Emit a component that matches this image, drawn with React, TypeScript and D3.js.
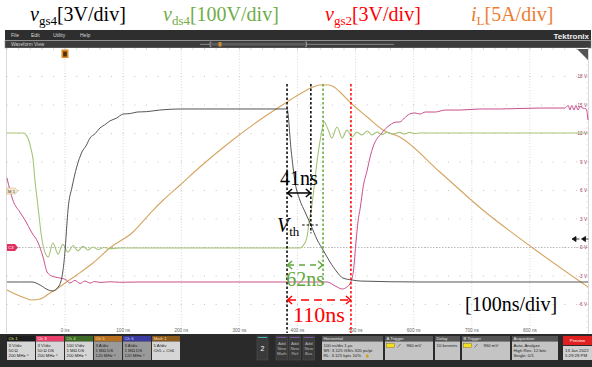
import React from 'react';
import * as d3 from 'd3';

// ---------- data (time in ns, values in channel units) ----------
const timeTicks = [0, 100, 200, 300, 400, 500, 600, 700, 800];
const voltTicks = [18, 15, 12, 9, 6, 3, 0, -3, -6];

// v_gs4 [V]
const vgs4: [number, number][] = [
  [-100, -3.63], [-78, -3.63], [-57, -3.63], [-43, -3.95], [-29, -4.47], [-21, -4.58], [-12, -4.16],
  [-7, -3.53], [-4, -2.58], [0, -0.26], [3, 2.37], [5, 3.95], [12, 6.37], [20, 8.47], [29, 10.05],
  [36, 10.7], [43, 11.53], [52, 12.0], [60, 12.58], [68, 12.9], [77, 13.32], [88, 13.6], [100, 14.05],
  [112, 14.1], [124, 14.26], [140, 14.3], [163, 14.47], [198, 14.58], [284, 14.58], [382, 14.58],
  [389, 10.26], [396, 6.79], [404, 5.0], [413, 3.74], [423, 2.37], [434, 0.79], [444, -0.26],
  [456, -1.53], [468, -2.58], [478, -3.21], [494, -3.42], [508, -3.53], [611, -3.63], [900, -3.63],
];

// v_ds4 [V]
const vds4: [number, number][] = [
  [-100, 402], [-72, 402], [-64, 384], [-59, 349], [-55, 307], [-52, 237], [-48, 167], [-45, 114],
  [-41, 44], [-36, -9], [-29, -33], [-21, 16], [-12, -23], [-4, 11], [5, -16], [14, 7], [22, -12],
  [31, 4], [39, -9], [48, 2], [57, -7], [67, 0], [77, -4], [94, -2], [232, -2], [404, -2],
  [409, 5], [416, 33], [420, 89], [425, 149], [428, 202], [434, 307], [440, 388], [446, 440],
  [453, 412], [459, 384], [468, 423], [477, 384], [485, 412], [494, 388], [502, 405], [511, 395],
  [520, 409], [528, 395], [537, 405], [545, 396], [554, 404], [564, 398], [576, 404], [584, 398],
  [593, 404], [602, 400], [611, 402], [900, 402],
];

// v_gs2 [V]
const vgs2: [number, number][] = [
  [-100, 7.32], [-95, 6.05], [-90, 5.0], [-78, 3.74], [-69, 2.89], [-57, 1.53], [-47, 0.58],
  [-38, -1.0], [-31, -2.58], [-23, -3.0], [-9, -3.21], [2, -3.42], [8, -3.74], [17, -3.47],
  [26, -3.79], [34, -3.53], [43, -3.74], [51, -3.58], [60, -3.68], [77, -3.61], [94, -3.66],
  [129, -3.63], [451, -3.63], [465, -4.05], [477, -4.37], [485, -4.16], [490, -3.84], [496, -2.58],
  [501, 0.79], [504, 2.68], [508, 4.16], [513, 6.37], [520, 8.16], [525, 9.53], [530, 10.58],
  [545, 12.05], [559, 12.89], [571, 13.21], [576, 13.21], [584, 13.63], [593, 14.05], [602, 14.16],
  [611, 14.05], [620, 14.26], [637, 14.26], [654, 14.47], [680, 14.47], [714, 14.58], [749, 14.58],
  [817, 14.68], [860, 14.68], [866, 14.95], [869, 14.47], [872, 14.95], [876, 14.47], [879, 14.95],
  [883, 14.47], [886, 14.84], [891, 14.68], [897, 14.58], [900, 13.42],
];

// i_L [A]
const iL: [number, number][] = [
  [-100, -7.46], [-86, -8.16], [-69, -8.86], [-57, -9.21], [-43, -9.04], [-26, -7.98], [-12, -7.11],
  [0, -6.23], [20, -4.82], [48, -2.72], [77, -0.09], [117, 2.72], [150, 6.4], [169, 8.33],
  [198, 10.96], [232, 14.12], [284, 18.51], [335, 22.37], [382, 25.53], [404, 26.93], [427, 28.16],
  [439, 28.51], [453, 28.51], [463, 28.16], [473, 27.28], [490, 25.53], [520, 22.89], [547, 20.61],
  [576, 19.39], [645, 13.25], [719, 6.58], [805, -0.09], [900, -6.93],
];

// annotation: switching instants
const tOff = 382;
const delay41 = 41;
const delay62 = 62;
const delay110 = 110;

const channelBoxes = [
  { name: 'Ch 1', lines: ['3 V/div', '50 Ω', '200 MHz ⁿ'] },
  { name: 'Ch 3', lines: ['3 V/div', '50 Ω    DS', '200 MHz ⁿ'] },
  { name: 'Ch 4', lines: ['100 V/div', '1 MΩ   DS', '200 MHz ⁿ'] },
  { name: 'Ch 5', lines: ['3 A/div', '1 MΩ   DS', '120 MHz ⁿ'] },
  { name: 'Ch 6', lines: ['3 A/div', '1 MΩ   DS', '120 MHz ⁿ'] },
  { name: 'Math 1', lines: ['5 A/div', 'Ch5 + Ch6'] },
];

// ---------- layout ----------
const W = 592, H = 367;
const X0 = 7, X1 = 588, Y0 = 48, Y1 = 333;

const x = d3.scaleLinear().domain([-100, 900]).range([X0, X1]);
const yV = d3.scaleLinear().domain([-9, 21]).range([Y1, Y0]);
const yVds = d3.scaleLinear().domain([-300, 700]).range([Y1, Y0]);
const yI = d3.scaleLinear().domain([-15, 35]).range([Y1, Y0]);

const mk = (ys: d3.ScaleLinear<number, number>) =>
  d3.line<[number, number]>().x(d => x(d[0])).y(d => ys(d[1])).curve(d3.curveMonotoneX);

const serif = '"Liberation Serif", "Times New Roman", serif';
const sans = '"Liberation Sans", Arial, sans-serif';

const GREEN = '#5fa83a';
const RED = '#ff0000';

function Arrow({ xa, xb, y, color, dash }: { xa: number; xb: number; y: number; color: string; dash?: string }) {
  return (
    <g stroke={color} strokeWidth={1.5} fill="none">
      <line x1={xa + 1} x2={xb - 1} y1={y} y2={y} strokeDasharray={dash} />
      <path d={`M${xa + 5},${y - 4} L${xa + 0.5},${y} L${xa + 5},${y + 4}`} />
      <path d={`M${xb - 5},${y - 4} L${xb - 0.5},${y} L${xb - 5},${y + 4}`} />
    </g>
  );
}

export default function App() {
  const majorX = d3.range(-100, 901, 100);
  const minorX = d3.range(-100, 901, 20);
  const majorY = d3.range(-9, 22, 3);
  const minorY = d3.range(-9, 21.01, 0.6);

  const xa = x(tOff);
  const x41 = x(tOff + delay41);
  const x62 = x(tOff + delay62);
  const x110 = x(tOff + delay110);
  const yTop = yV(17.2);

  const panelBoxX = [7, 36, 65, 94, 123, 152];
  const panelHead = ['#1c1c1c', '#e8406a', '#3d6b25', '#b8701e', '#3a3aa0', '#8c5a1c'];
  const panelHeadText = ['#e8e070', '#ffffff', '#c8e8a0', '#ffe0b0', '#d0d0ff', '#ffe0b0'];
  const panelBody = ['#d6d6d6', '#d6d6d6', '#d6d6d6', '#9a9a9a', '#9a9a9a', '#d6d6d6'];

  return (
    <svg width={W} height={H} style={{ position: 'absolute', left: 0, top: 0, background: '#fff' }}>
      <rect x={0} y={0} width={W} height={H} fill="#fff" />
      {/* titles */}
      <g fontFamily={serif} fontSize={20}>
        <text x={30} y={21} fill="#000">
          <tspan fontStyle="italic">v</tspan>
          <tspan fontSize={13} dy={4}>gs4</tspan>
          <tspan dy={-4}>[3V/div]</tspan>
        </text>
        <text x={163} y={21} fill="#70ad47">
          <tspan fontStyle="italic">v</tspan>
          <tspan fontSize={13} dy={4}>ds4</tspan>
          <tspan dy={-4}>[100V/div]</tspan>
        </text>
        <text x={325} y={21} fill={RED}>
          <tspan fontStyle="italic">v</tspan>
          <tspan fontSize={13} dy={4}>gs2</tspan>
          <tspan dy={-4}>[3V/div]</tspan>
        </text>
        <text x={471} y={21} fill="#ed7d31">
          <tspan fontStyle="italic">i</tspan>
          <tspan fontSize={13} dy={4}>L</tspan>
          <tspan dy={-4}>[5A/div]</tspan>
        </text>
      </g>

      {/* menu bar */}
      <rect x={5} y={30} width={586} height={10} fill="#2e2e2e" />
      <g fontFamily={sans} fontSize={5} fill="#d8d8d8">
        <text x={11} y={37}>File</text>
        <text x={31} y={37}>Edit</text>
        <text x={53} y={37}>Utility</text>
        <text x={80} y={37}>Help</text>
      </g>
      <text x={589} y={38.5} textAnchor="end" fontFamily={sans} fontSize={8} fontWeight="bold" fill="#f0f0f0">Tektronix</text>
      <rect x={5} y={40.5} width={586} height={7.5} fill="#3c3c3c" stroke="#8a8a8a" strokeWidth={0.6} />
      <text x={11} y={46.3} fontFamily={sans} fontSize={4.8} fill="#cfcfcf">Waveform View</text>
      <line x1={200} x2={394} y1={44.3} y2={44.3} stroke="#7a7a7a" strokeWidth={1.2} />
      <rect x={210} y={42.8} width={96} height={3} fill="#5a5a5a" />
      <path d="M211.5,42 h-1.5 v4.6 h1.5 M305,42 h1.5 v4.6 h-1.5" stroke="#c0c0c0" strokeWidth={0.6} fill="none" />
      <rect x={218.5} y={42} width={3} height={4.6} fill="#d08a30" />

      {/* plot area */}
      <rect x={X0 - 1} y={Y0} width={X1 - X0 + 2} height={Y1 - Y0 + 2} fill="#fff" />
      <line x1={X0 - 0.5} x2={X0 - 0.5} y1={Y0} y2={Y1} stroke="#cfcfcf" strokeWidth={0.8} />
      <line x1={X1 + 0.5} x2={X1 + 0.5} y1={Y0} y2={Y1} stroke="#cfcfcf" strokeWidth={0.8} />

      {/* grid */}
      <g>
        {majorX.slice(1, -1).map(t => (
          <line key={'vx' + t} x1={x(t)} x2={x(t)} y1={Y0} y2={Y1} stroke="#bcbcbc" strokeWidth={0.7} strokeDasharray="0.8,2" />
        ))}
        {majorY.slice(1, -1).map(v =>
          minorX.map(t => (
            <rect key={'d' + v + '_' + t} x={x(t) - 0.5} y={yV(v) - 0.5} width={1} height={1} fill="#c4c4c4" />
          ))
        )}
        {minorX.map(t => (
          <line key={'tt' + t} x1={x(t)} x2={x(t)} y1={Y0} y2={Y0 + 2} stroke="#c8c8c8" strokeWidth={0.7} />
        ))}
        {minorY.map((v, i) => (
          <line key={'ty' + i} x1={X1 - 2} x2={X1} y1={yV(v)} y2={yV(v)} stroke="#d8d8d8" strokeWidth={0.5} />
        ))}
        <line x1={X0} x2={X1} y1={yV(0)} y2={yV(0)} stroke="#a0a0a0" strokeWidth={0.7} strokeDasharray="1.5,1.5" />
      </g>

      {/* right axis labels */}
      <g fontFamily={sans} fontSize={4.6} fill="#9b3060" textAnchor="end">
        {voltTicks.map(v => (
          <text key={'vl' + v} x={587} y={yV(v) + 1.6}>{`${v} V`}</text>
        ))}
      </g>

      {/* time labels */}
      <g fontFamily={sans} fontSize={4.6} fill="#666" textAnchor="middle">
        {timeTicks.map(t => (
          <text key={'tl' + t} x={x(t)} y={332}>{`${t} ns`}</text>
        ))}
      </g>

      {/* traces */}
      <g fill="none" strokeWidth={1} strokeLinejoin="round">
        <path d={mk(yI)(iL) || ''} stroke="#d6a460" strokeWidth={1.1} />
        <path d={mk(yVds)(vds4) || ''} stroke="#a7c47a" strokeWidth={1.1} />
        <path d={mk(yV)(vgs2) || ''} stroke="#c8508c" />
        <path d={mk(yV)(vgs4) || ''} stroke="#555555" />
      </g>

      {/* markers */}
      <g>
        <rect x={61.5} y={49.5} width={7} height={8.5} fill="#e08a2a" rx={0.5} />
        <rect x={63.2} y={51.5} width={3.6} height={5} fill="#4a3010" />
        <path d={`M577,49 L588,49 L588,60 Z`} fill="#555" />
        <path d={`M7,${yV(0) - 3.5} h8 l3,3.5 l-3,3.5 h-8 Z`} fill="#e03060" />
        <text x={11} y={yV(0) + 1.6} fontFamily={sans} fontSize={4.2} fill="#fff" textAnchor="middle">C3</text>
        <path d="M7,188 h8 l3,3 l-3,3 h-8 Z" fill="#f6ead2" stroke="#c8a870" strokeWidth={0.5} />
        <text x={11.5} y={192.6} fontFamily={sans} fontSize={4.2} fill="#333" textAnchor="middle">M 1</text>
        <path d="M572,239 l4,-2.5 v5 Z M576,239 h3.5 M581.5,239 l4,-2.5 v5 Z M585.5,239 h3" stroke="#111" strokeWidth={0.8} fill="#111" />
      </g>

      {/* annotations */}
      <g strokeWidth={1.5} strokeDasharray="2.5,2">
        <line x1={xa} x2={xa} y1={yTop} y2={Y1} stroke="#000" />
        <line x1={x41} x2={x41} y1={yTop} y2={yV(1.5)} stroke="#000" />
        <line x1={x62} x2={x62} y1={yTop} y2={yV(-3.95)} stroke={GREEN} />
        <line x1={x110} x2={x110} y1={yTop} y2={Y1} stroke={RED} />
        <line x1={x(408)} x2={x(435)} y1={yV(2.37)} y2={yV(2.37)} stroke="#000" strokeWidth={1.2} />
      </g>
      <Arrow xa={xa} xb={x41} y={yV(5.74)} color="#000" />
      <Arrow xa={xa} xb={x62} y={yV(-1.84)} color={GREEN} dash="6,5" />
      <Arrow xa={xa} xb={x110} y={yV(-5.53)} color={RED} dash="8,5" />
      <g fontFamily={serif} fontSize={20}>
        <text x={x(tOff + delay41 / 2)} y={185} textAnchor="middle" fill="#000">{`${delay41}ns`}</text>
        <text x={x(tOff + delay62 / 2)} y={286} textAnchor="middle" fill={GREEN}>{`${delay62}ns`}</text>
        <text x={x(tOff + delay110 / 2)} y={322} textAnchor="middle" fill={RED} fontSize={22}>{`${delay110}ns`}</text>
        <text x={277} y={232} fill="#000">
          <tspan fontStyle="italic">V</tspan>
          <tspan fontSize={13} dy={4}>th</tspan>
        </text>
        <text x={465} y={311} fill="#000">[100ns/div]</text>
      </g>

      {/* bottom panel */}
      <rect x={0} y={334} width={W} height={H - 334} fill="#2a2a2a" />
      <g fontFamily={sans} fontSize={4.3}>
        {channelBoxes.map((b, i) => (
          <g key={b.name}>
            <rect x={panelBoxX[i]} y={336} width={28} height={5.5} fill={panelHead[i]} />
            <rect x={panelBoxX[i]} y={341.5} width={28} height={18.5} fill={panelBody[i]} />
            <text x={panelBoxX[i] + 1.5} y={340.3} fill={panelHeadText[i]}>{b.name}</text>
            {b.lines.map((l, j) => (
              <text key={j} x={panelBoxX[i] + 1.5} y={346.5 + j * 5.2} fill="#222">{l}</text>
            ))}
          </g>
        ))}
        <rect x={257} y={336} width={11} height={24} fill="#3a3a3a" stroke="#555" strokeWidth={0.5} />
        <line x1={258} x2={267} y1={337.5} y2={337.5} stroke="#40b0b0" strokeWidth={1} />
        <text x={262.5} y={351} fontSize={7} fill="#fff" textAnchor="middle">2</text>
        {[['Math', 276], ['Ref', 289], ['Bus', 303]].map(([n, bx]) => (
          <g key={n as string}>
            <rect x={bx as number} y={336} width={11.5} height={24} fill="#3a3a3a" stroke="#555" strokeWidth={0.5} />
            <line x1={(bx as number) + 1} x2={(bx as number) + 10.5} y1={337.5} y2={337.5} stroke="#8050a0" strokeWidth={1} />
            <text x={(bx as number) + 5.75} y={344.5} fill="#bbb" textAnchor="middle">Add</text>
            <text x={(bx as number) + 5.75} y={349.5} fill="#bbb" textAnchor="middle">New</text>
            <text x={(bx as number) + 5.75} y={354.5} fill="#bbb" textAnchor="middle">{n}</text>
          </g>
        ))}
        {[
          { x: 322, w: 61, h: 'Horizontal', l: ['100 ns/div          1 µs', 'SR: 3.125 GS/s   320 ps/pt', 'RL: 3.125 kpts      10%'] },
          { x: 385, w: 48, h: 'A Trigger', l: ['', '', ''] },
          { x: 435, w: 25, h: 'Delay', l: ['10 kevents'] },
          { x: 462, w: 48, h: 'B Trigger', l: ['', '', ''] },
          { x: 512, w: 46, h: 'Acquisition', l: ['Auto,          Analyze', 'High Res: 12 bits', 'Single: 0/1'] },
        ].map(b => (
          <g key={b.h}>
            <rect x={b.x} y={336} width={b.w} height={5.5} fill="#555" />
            <rect x={b.x} y={341.5} width={b.w} height={18.5} fill="#c4c4c4" />
            <text x={b.x + 1.5} y={340.3} fill="#e8e8e8">{b.h}</text>
            {b.l.map((l, j) => (
              <text key={j} x={b.x + 1.5} y={346.5 + j * 5.2} fill="#222">{l}</text>
            ))}
          </g>
        ))}
        <rect x={366} y={354.5} width={2.5} height={3} fill="#d0a020" />
        {[386.5, 463.5].map(bx => (
          <g key={bx}>
            <rect x={bx} y={343.5} width={8} height={4} fill="#f0e020" stroke="#806000" strokeWidth={0.4} />
            <line x1={bx + 11} x2={bx + 14} y1={347.5} y2={344} stroke="#333" strokeWidth={0.5} />
            <text x={bx + 20} y={347.2} fill="#222">960 mV</text>
          </g>
        ))}
        <rect x={563} y={336} width={29} height={9} fill="#e02020" />
        <text x={577.5} y={342} fill="#fff" textAnchor="middle">Preview</text>
        <rect x={563} y={346} width={29} height={14} fill="#d0d0d0" />
        <text x={565} y={351.5} fill="#222">13 Jan 2022</text>
        <text x={565} y={357} fill="#222">5:29:28 PM</text>
      </g>
    </svg>
  );
}
